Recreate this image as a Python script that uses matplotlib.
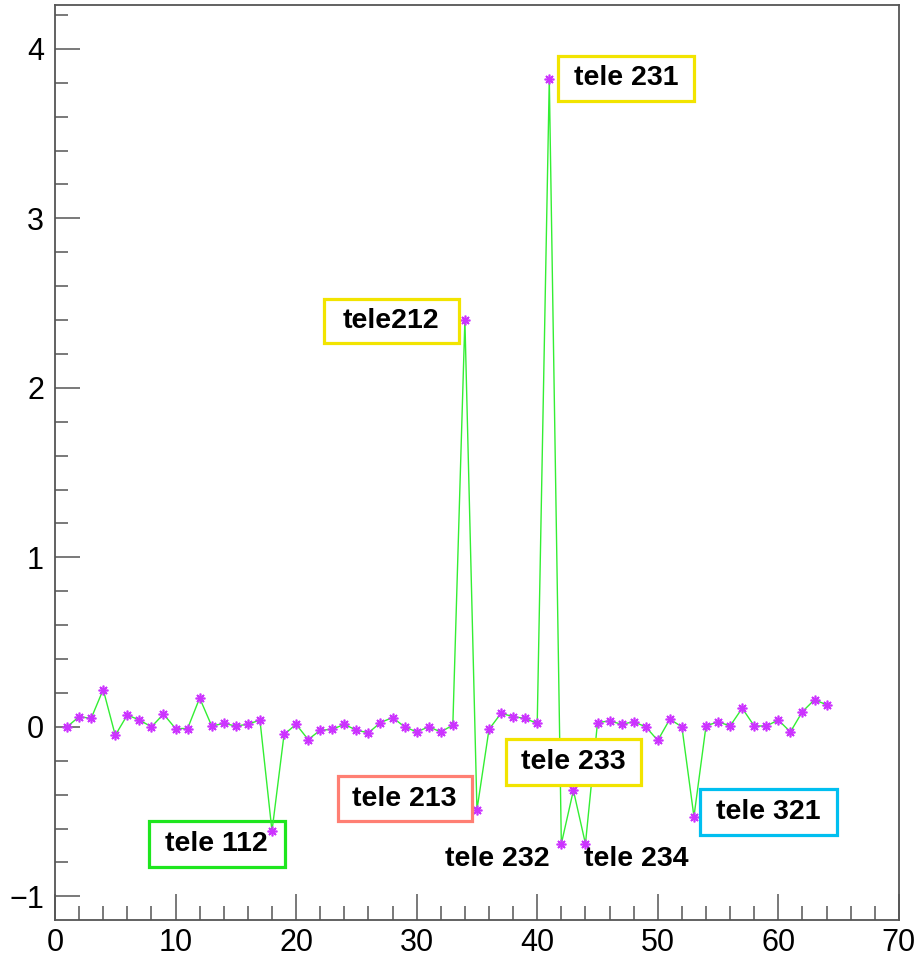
import numpy as np
import matplotlib
matplotlib.use("Agg")
import matplotlib.pyplot as plt
from matplotlib.patches import Rectangle
from matplotlib.ticker import MultipleLocator

plt.rcParams['font.family'] = ['Liberation Sans', 'DejaVu Sans']

# datos
canal = np.arange(1, 65)
valor = [0.00, 0.06, 0.05, 0.22, -0.05, 0.07, 0.04, 0.00, 0.075, -0.01,
         -0.01, 0.17, 0.005, 0.02, 0.005, 0.015, 0.04, -0.615, -0.045, 0.015,
         -0.075, -0.02, -0.015, 0.015, -0.02, -0.035, 0.025, 0.055, 0.00, -0.03,
         0.00, -0.03, 0.01, 2.40, -0.49, -0.015, 0.08, 0.06, 0.05, 0.02,
         3.82, -0.69, -0.375, -0.69, 0.025, 0.035, 0.015, 0.03, 0.00, -0.08,
         0.045, 0.00, -0.53, 0.005, 0.03, 0.005, 0.11, 0.005, 0.005, 0.04,
         -0.03, 0.09, 0.16, 0.13]

# etiquetas con caja: texto, x0, x1, y0, y1, color, encima de la curva
etiquetas_caja = [
    ("tele212", 22.28, 33.50, 2.266, 2.527, "#f2e400", True),
    ("tele 231", 41.73, 53.03, 3.692, 3.959, "#f2e400", True),
    ("tele 112", 7.81, 19.04, -0.828, -0.556, "#1ee61e", False),
    ("tele 213", 23.44, 34.58, -0.556, -0.290, "#ff7f73", True),
    ("tele 233", 37.41, 48.63, -0.343, -0.071, "#f2e400", True),
    ("tele 321", 53.53, 64.84, -0.639, -0.367, "#00bff0", True),
]
# etiquetas sin caja
etiquetas_libres = [("tele 232", 36.66, -0.781), ("tele 234", 48.21, -0.781)]

fig = plt.figure(figsize=(9.18, 9.64), dpi=100)
ax = fig.add_axes([0.0599, 0.0456, 0.9193, 0.9494])

ax.plot(canal, valor, color="#33ee33", lw=1.0, zorder=2)
ax.plot(canal, valor, ls="none", marker=(8, 2, 0), ms=7, mew=1.2,
        color="#cc33ff", zorder=3)

for txt, x0, x1, y0, y1, col, encima in etiquetas_caja:
    z = 4 if encima else 1
    ax.add_patch(Rectangle((x0, y0), x1 - x0, y1 - y0, fill=True, facecolor="white",
                           edgecolor=col, lw=2.3, zorder=z))
    ax.text((x0 + x1) / 2, (y0 + y1) / 2, txt, ha="center", va="center",
            fontsize=20.5, fontweight="bold", zorder=z + 0.5)

for txt, x, y in etiquetas_libres:
    ax.text(x, y, txt, ha="center", va="center", fontsize=20.5, fontweight="bold", zorder=5)

ax.set_xlim(0, 70)
ax.set_ylim(-1.14, 4.26)
ax.xaxis.set_major_locator(MultipleLocator(10))
ax.xaxis.set_minor_locator(MultipleLocator(2))
ax.yaxis.set_major_locator(MultipleLocator(1))
ax.yaxis.set_minor_locator(MultipleLocator(0.2))
ax.tick_params(axis="x", which="major", direction="in", length=19, width=1.1,
               color="#555555", labelsize=22, pad=6)
ax.tick_params(axis="x", which="minor", direction="in", length=10, width=1.1, color="#555555")
ax.tick_params(axis="y", which="major", direction="in", length=18, width=1.1,
               color="#555555", labelsize=22, pad=8)
ax.tick_params(axis="y", which="minor", direction="in", length=9, width=1.1, color="#555555")
for s in ax.spines.values():
    s.set_color("#555555")
    s.set_linewidth(1.3)

fig.savefig("out.png", dpi=100)
